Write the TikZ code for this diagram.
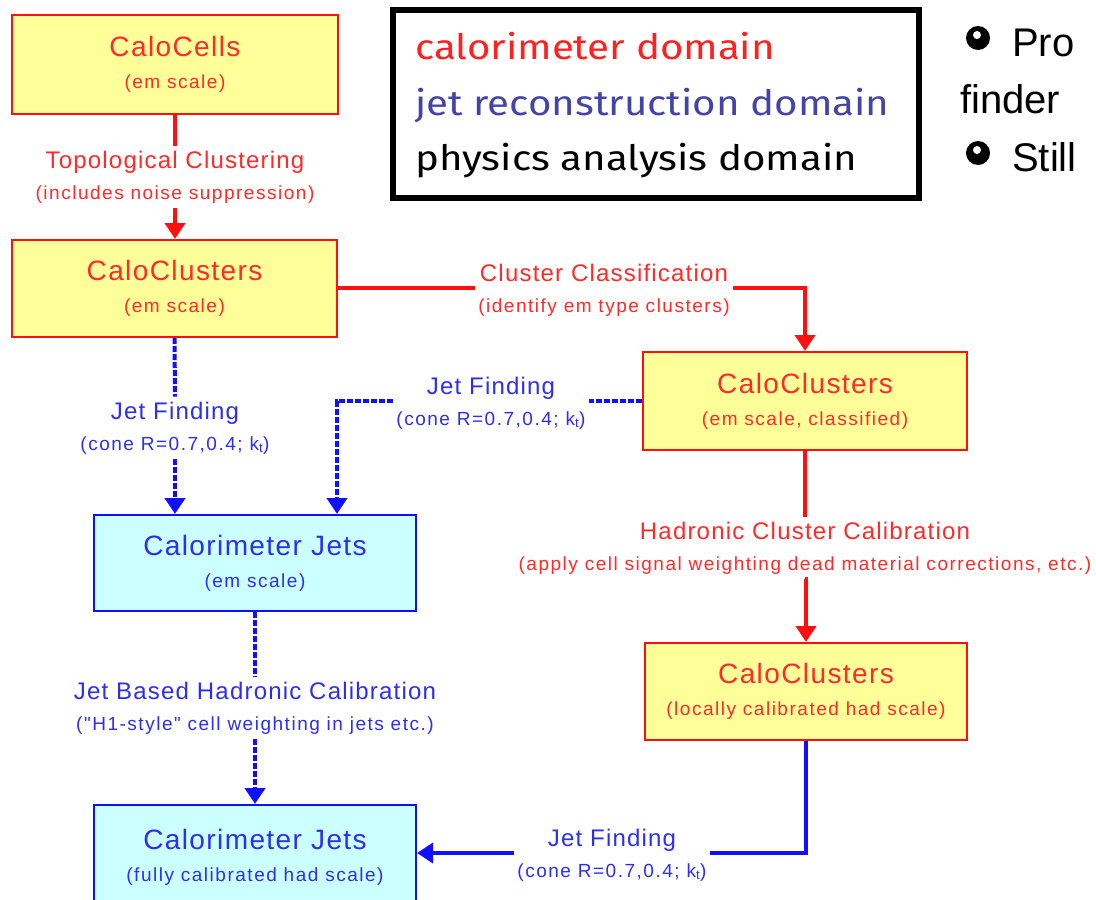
\documentclass[tikz,border=0pt]{standalone}
\usepackage{fontspec}
\setmainfont{Liberation Sans}
\newfontfamily\arialLS[LetterSpace=5]{Liberation Sans}
\newfontfamily\arialLSs[LetterSpace=8]{Liberation Sans}
\newfontfamily\legfam[FakeStretch=1.15]{Fira Sans}
\usetikzlibrary{arrows.meta}
\newcommand\bigf{\arialLS\fontsize{28}{32}\selectfont}
\newcommand\subf{\arialLSs\fontsize{19}{32}\selectfont}
\newcommand\medf{\arialLS\fontsize{24}{31}\selectfont}
\newcommand\smlf{\arialLSs\fontsize{19}{31}\selectfont}
\definecolor{cred}{HTML}{FF1010}
\definecolor{tred}{HTML}{FF2A2A}
\definecolor{yfill}{HTML}{FFFF99}
\definecolor{cfill}{HTML}{CCFFFF}
\definecolor{cblue}{HTML}{1010FF}
\definecolor{tblue}{HTML}{2E2EEE}
\definecolor{lblue}{HTML}{4444A8}
\definecolor{lred}{HTML}{FF2020}
\tikzset{
  calobox/.style={draw=cred, line width=2pt, fill=yfill, text=tred, align=center, inner sep=0pt, font=\fontsize{28}{32}\selectfont},
  jetbox/.style={draw=cblue, line width=2pt, fill=cfill, text=tblue, align=center, inner sep=0pt, font=\fontsize{28}{32}\selectfont},
  redlab/.style={text=tred, align=center, inner xsep=3pt, inner ysep=5pt, font=\fontsize{24}{31}\selectfont},
  bluelab/.style={text=tblue, align=center, inner xsep=3pt, inner ysep=5pt, font=\fontsize{24}{31}\selectfont},
  redline/.style={draw=cred, line width=4pt},
  bluedash/.style={draw=cblue, line width=4pt, dash pattern=on 6pt off 2pt},
  blueline/.style={draw=cblue, line width=3.5pt},
  tip/.style={-{Triangle[length=16pt,width=20pt]}},
  legtext/.style={anchor=base west, inner sep=0pt},
  rtext/.style={anchor=base west, inner sep=0pt, font=\fontsize{40}{48}\selectfont},
}
\begin{document}
\begin{tikzpicture}[x=1pt,y=-1pt]
\useasboundingbox (0,0) rectangle (1096,900);
\fill[white] (0,0) rectangle (1096,900);

% boxes
\node[calobox, minimum width=326pt, minimum height=99pt] (cells) at (175,64)
  {\bigf CaloCells\\\subf (em scale)};
\node[calobox, minimum width=325pt, minimum height=97pt] (cl1) at (174.5,288.5)
  {\bigf CaloClusters\\\subf (em scale)};
\node[calobox, minimum width=324pt, minimum height=98pt] (cl2) at (805,401)
  {\bigf CaloClusters\\\subf (em scale, classified)};
\node[calobox, minimum width=322pt, minimum height=97pt] (cl3) at (806,691.5)
  {\bigf CaloClusters\\\subf (locally calibrated had scale)};
\node[jetbox, minimum width=322pt, minimum height=96pt] (cj1) at (255,563)
  {\bigf Calorimeter Jets\\\subf (em scale)};
\node[jetbox, minimum width=322pt, minimum height=104pt] (cj2) at (255,857)
  {\bigf Calorimeter Jets\\\subf (fully calibrated had scale)};

% labels
\node[redlab] (topo) at (175,177)
  {\medf Topological Clustering\\\smlf (includes noise suppression)};
\node[redlab] (clcls) at (604,290)
  {\medf Cluster Classification\\\smlf (identify em type clusters)};
\node[redlab] (hcc) at (805,548)
  {\medf Hadronic Cluster Calibration\\\smlf (apply cell signal weighting dead material corrections, etc.)};
\node[bluelab] (jf1) at (175,428)
  {\medf Jet Finding\\\smlf (cone R=0.7,0.4; k\textsubscript{t})};
\node[bluelab] (jf2) at (491,403)
  {\medf Jet Finding\\\smlf (cone R=0.7,0.4; k\textsubscript{t})};
\node[bluelab] (jf3) at (612,855)
  {\medf Jet Finding\\\smlf (cone R=0.7,0.4; k\textsubscript{t})};
\node[bluelab] (jbhc) at (255,708)
  {\medf Jet Based Hadronic Calibration\\\smlf ("H1-style" cell weighting in jets etc.)};

% connectors
\draw[redline] (cells.south) -- (topo.north);
\draw[redline, tip] (topo.south) -- (topo.south |- cl1.north);
\draw[redline] (cl1.east |- 0,288) -- (clcls.west |- 0,288);
\draw[redline, tip] (clcls.east |- 0,288) -- (cl2.north |- 0,288) -- (cl2.north);
\draw[redline] (cl2.south) -- (hcc.north);
\draw[redline, tip] (hcc.south) -- (hcc.south -| cl3.north) -- (cl3.north);

\draw[bluedash] (cl1.south) -- (jf1.north);
\draw[bluedash, tip] (jf1.south) -- (jf1.south |- cj1.north);
\coordinate (c2) at (337,401);
\draw[bluedash] (cl2.west |- c2) -- (jf2.east |- c2);
\draw[bluedash, tip] (jf2.west |- c2) -- (c2) -- (c2 |- cj1.north);
\draw[bluedash] (cj1.south) -- (jbhc.north);
\draw[bluedash, tip] (jbhc.south) -- (jbhc.south |- cj2.north);
\coordinate (c3) at (806,853);
\draw[blueline] (cl3.south) -- (c3) -- (jf3.east |- c3);
\draw[blueline, tip] (jf3.west |- c3) -- (cj2.east |- c3);

% legend
\node[draw=black, line width=6pt, minimum width=526pt, minimum height=188pt, inner sep=0pt] (leg) at (656,104) {};
\node[legtext, text=lred] (lg1) at (415,59) {\legfam\fontsize{35}{40}\selectfont calorimeter domain};
\node[legtext, text=lblue] (lg2) at (415,115) {\legfam\fontsize{35}{40}\selectfont jet reconstruction domain};
\node[legtext, text=black] (lg3) at (415,170) {\legfam\fontsize{35}{40}\selectfont physics analysis domain};

% right text
\fill[black] (978,38) circle (12pt);
\fill[white] (977,35) circle (4pt);
\node[rtext] (r1) at (1012,56) {Pro};
\node[rtext] (r2) at (960,113) {finder};
\fill[black] (978,153) circle (12pt);
\fill[white] (977,150) circle (4pt);
\node[rtext] (r3) at (1012,171) {Still};
\end{tikzpicture}
\end{document}
